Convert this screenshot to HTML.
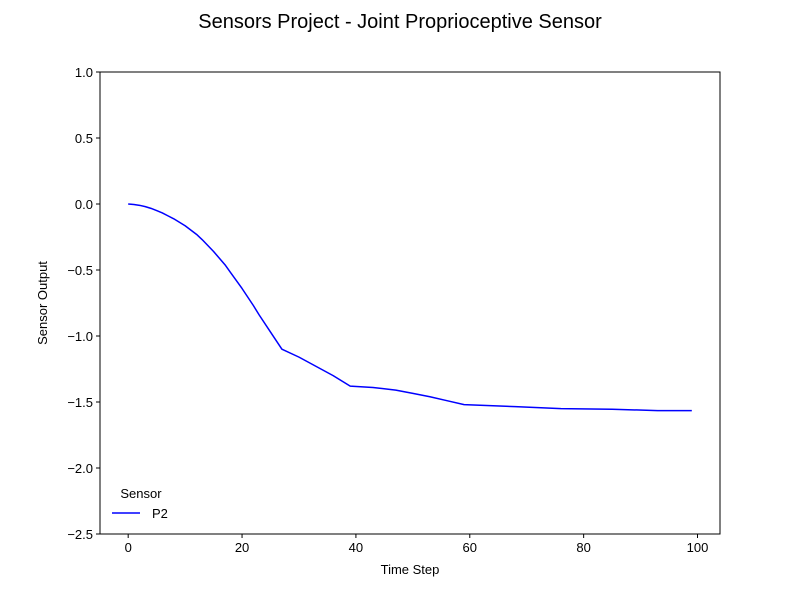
<!DOCTYPE html>
<html><head><meta charset="utf-8"><style>
body{margin:0;background:#fff;font-family:"Liberation Sans","DejaVu Sans",sans-serif}
</style></head><body>
<svg id="chart" width="800" height="600" xmlns="http://www.w3.org/2000/svg">
<rect width="800" height="600" fill="#fff"/>
<text x="400" y="28" text-anchor="middle" font-size="20">Sensors Project - Joint Proprioceptive Sensor</text>
<g id="axes"></g>
<text x="410" y="574" text-anchor="middle" font-size="13">Time Step</text>
<text x="47" y="303" text-anchor="middle" font-size="13" transform="rotate(-90 47 303)">Sensor Output</text>
<g>
<text x="141" y="498" text-anchor="middle" font-size="13">Sensor</text>
<line x1="112" y1="513" x2="140" y2="513" stroke="#0000ff" stroke-width="1.5"/>
<text x="152" y="518" font-size="13">P2</text>
</g>
</svg>
<script>
const xVals=[0,1,2,3,4,5,6,7,8,10,12,13,15,17,18,20,22,23,25,27,30,33,36,39,43,47,50,53,56,59,68,76,85,93,99];
const yVals=[0,-0.004,-0.01,-0.02,-0.033,-0.05,-0.068,-0.09,-0.112,-0.165,-0.23,-0.27,-0.36,-0.46,-0.52,-0.64,-0.77,-0.84,-0.97,-1.10,-1.16,-1.23,-1.30,-1.38,-1.39,-1.41,-1.435,-1.46,-1.49,-1.52,-1.535,-1.55,-1.555,-1.565,-1.565];
const xTicks=[0,20,40,60,80,100];
const yTicks=[1.0,0.5,0.0,-0.5,-1.0,-1.5,-2.0,-2.5];
const L=100,R=720,T=72,B=534,xmin=-4.95,xmax=103.95,ymin=-2.5,ymax=1.0;
const sx=v=>L+(v-xmin)/(xmax-xmin)*(R-L);
const sy=v=>B-(v-ymin)/(ymax-ymin)*(B-T);
const NS="http://www.w3.org/2000/svg",g=document.getElementById('axes');
function mk(t,a){const e=document.createElementNS(NS,t);for(const k in a)e.setAttribute(k,a[k]);g.appendChild(e);return e;}
xTicks.forEach(v=>{const x=sx(v);
const l=mk('line',{x1:x,y1:B,x2:x,y2:B+4,stroke:'#000'});


const t=mk('text',{x:x,y:B+18,'text-anchor':'middle','font-size':13});t.textContent=v;

});
yTicks.forEach(v=>{const y=sy(v);
const l=mk('line',{x1:L-4,y1:y,x2:L,y2:y,stroke:'#000'});


const t=mk('text',{x:L-7,y:y+5,'text-anchor':'end','font-size':13});t.textContent=v.toFixed(1).replace('-','\u2212');

});
const p=mk('polyline',{points:xVals.map((x,i)=>sx(x)+','+sy(yVals[i])).join(' '),fill:'none',stroke:'#0000ff','stroke-width':1.5,'stroke-linejoin':'round'});


const f=mk('rect',{x:L,y:T,width:R-L,height:B-T,fill:'none',stroke:'#000'});


</script>
</body></html>
